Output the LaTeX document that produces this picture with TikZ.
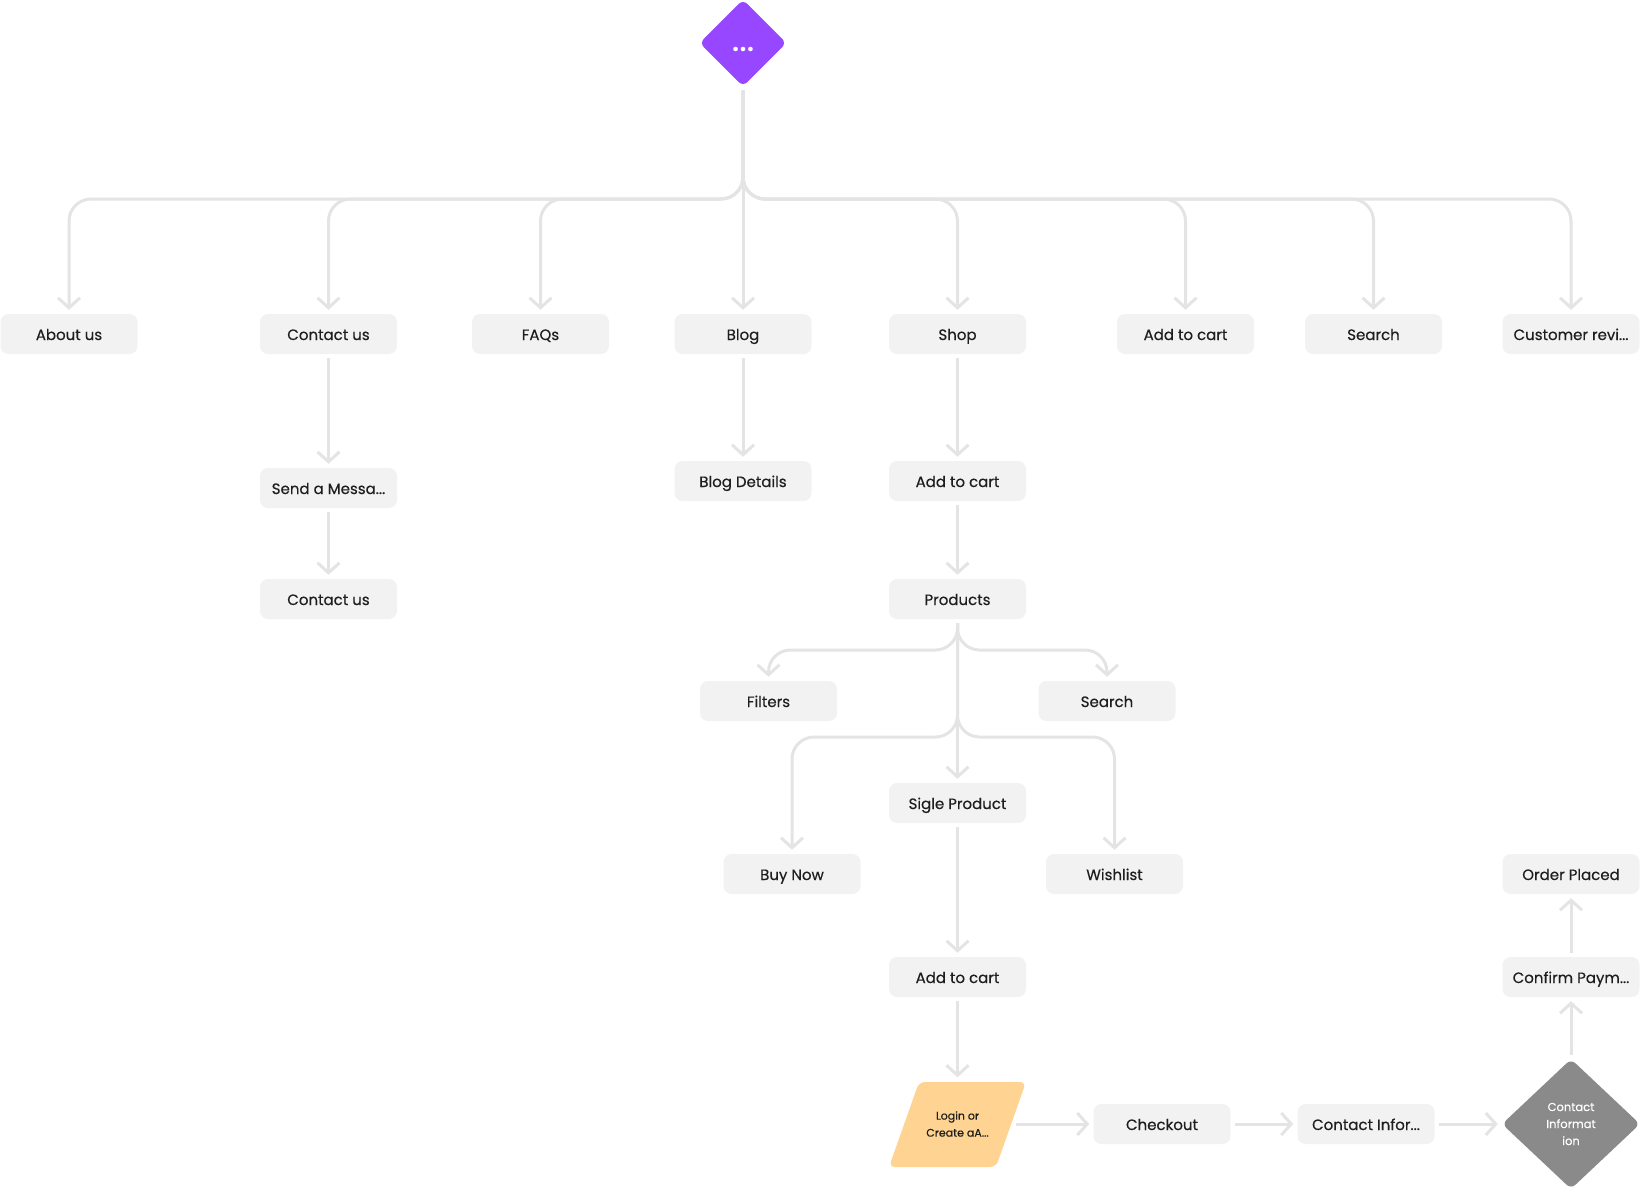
\documentclass[tikz,border=0pt]{standalone}
\usepackage{fontspec}
\setmainfont{Poppins}[FakeBold=0.4]
\usetikzlibrary{arrows.meta,positioning,shapes.geometric}
\definecolor{boxgray}{HTML}{F2F2F2}
\definecolor{linegray}{HTML}{E4E4E4}
\definecolor{textdark}{HTML}{1E1E1E}
\definecolor{rootpurple}{HTML}{9747FF}
\definecolor{loginorange}{HTML}{FFD392}
\definecolor{decgray}{HTML}{8A8A8A}
\tikzset{
    card/.style={
        rectangle,
        rounded corners=8pt,
        fill=boxgray,
        minimum width=137pt,
        minimum height=40pt,
        inner sep=0pt,
        text height=12pt,
        text depth=0pt,
        text=textdark,
        font=\fontsize{15}{18}\selectfont
    },
    link/.style={
        draw=linegray,
        line width=3pt,
        rounded corners=22pt,
        shorten <=4pt,
        shorten >=4pt,
        -{Straight Barb[length=10pt,width=22pt]}
    },
    startdiamond/.style={
        diamond,
        aspect=1,
        rounded corners=6pt,
        fill=rootpurple,
        minimum width=87pt,
        minimum height=87pt,
        inner sep=0pt,
        text=white,
        font=\fontsize{18}{18}\selectfont
    },
    decision/.style={
        diamond,
        aspect=1,
        rounded corners=6pt,
        fill=decgray,
        minimum width=138pt,
        minimum height=130pt,
        inner sep=0pt,
        align=center,
        text=white,
        font=\fontsize{11.5}{17}\selectfont
    },
    inputbox/.style={
        rectangle,
        minimum width=108pt,
        minimum height=85pt,
        inner sep=0pt,
        align=center,
        text=textdark,
        font=\fontsize{11}{17}\selectfont
    }
}

\begin{document}
\begin{tikzpicture}[x=1pt,y=-1pt]
    \useasboundingbox (0,0) rectangle (1640,1189);

    % start
    \node[startdiamond] (root) at (743,43) {\smash{\raisebox{-12pt}{\textbullet\textbullet\textbullet}}};
    \coordinate (bus) at (0,199);

    % first level
    \node[card] (aboutus)  at (69,334)   {About us};
    \node[card] (contact)  at (328.5,334) {Contact us};
    \node[card] (faqs)     at (540.5,334) {FAQs};
    \node[card] (blog)     at (743,334)  {Blog};
    \node[card] (shop)     at (957.5,334) {Shop};
    \node[card] (addcart)  at (1185.5,334) {Add to cart};
    \node[card] (search)   at (1373.5,334) {Search};
    \node[card] (review)   at (1571,334) {Customer revi...};

    % contact and blog
    \node[card] (message)  at (328.5,488) {Send a Messa...};
    \node[card] (contact2) at (328.5,599) {Contact us};
    \node[card] (blogdetails) at (743,481) {Blog Details};

    % shop
    \node[card] (addcart2) at (957.5,481) {Add to cart};
    \node[card] (products) at (957.5,599) {Products};
    \node[card] (filters)  at (768.5,701) {Filters};
    \node[card] (search2)  at (1107,701) {Search};
    \node[card] (single)   at (957.5,803) {Sigle Product};
    \node[card] (buynow)   at (792,874) {Buy Now};
    \node[card] (wishlist) at (1114.5,874) {Wishlist};
    \node[card] (addcart3) at (957.5,977) {Add to cart};

    % checkout
    \fill[loginorange,rounded corners=6pt] (889,1167) -- (919,1082) -- (1026,1082) -- (996,1167) -- cycle;
    \node[inputbox] (login) at (957.5,1124) {Login or\\Create aA...};
    \node[card] (checkout) at (1162,1124) {Checkout};
    \node[card] (contactinfo) at (1366,1124) {Contact Infor...};
    \node[decision] (payinfo) at (1571,1124) {Contact\\Informat\\ion};
    \node[card] (confirm) at (1571,977) {Confirm Paym...};
    \node[card] (placed)  at (1571,874) {Order Placed};

    % connectors
    \foreach \n in {aboutus,contact,faqs,shop,addcart,search,review}
        \draw[link] (root.south) |- (\n.north |- bus) -- (\n.north);
    \draw[link] (root.south) -- (blog.north);

    \foreach \a/\b in {contact/message,message/contact2,blog/blogdetails,shop/addcart2,addcart2/products,products/single,single/addcart3,addcart3/login}
        \draw[link] (\a.south) -- (\b.north);

    \foreach \n/\y in {filters/650,search2/650,buynow/737,wishlist/737}
        \draw[link] (products.south) |- (\n.north |- 0,\y) -- (\n.north);

    \foreach \a/\b in {login/checkout,checkout/contactinfo,contactinfo/payinfo}
        \draw[link] (\a.east) -- (\b.west);

    \foreach \a/\b in {payinfo/confirm,confirm/placed}
        \draw[link] (\a.north) -- (\b.south);
\end{tikzpicture}
\end{document}
